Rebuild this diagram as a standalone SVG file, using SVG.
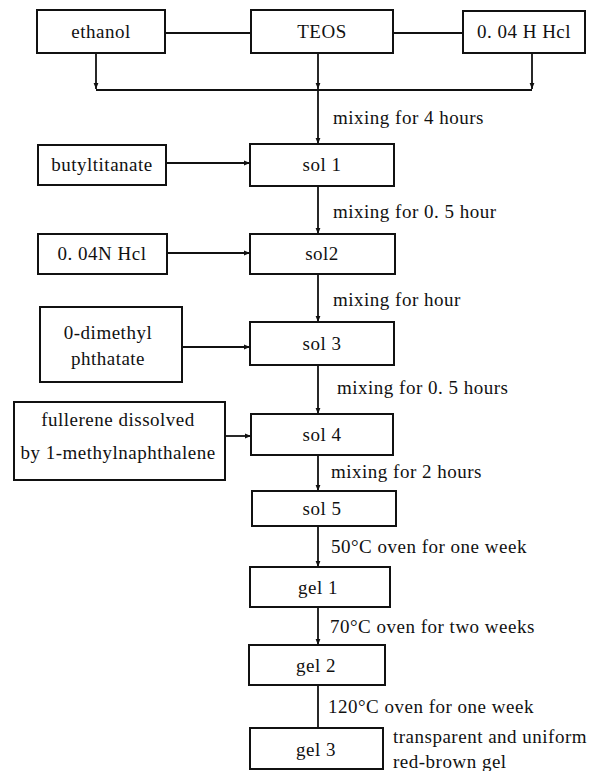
<svg xmlns="http://www.w3.org/2000/svg" width="606" height="771" viewBox="0 0 606 771">
<style>
.box{fill:#fff;stroke:#111;stroke-width:2}
.ln{fill:none;stroke:#111;stroke-width:1.8}
text{font-family:"Liberation Serif","DejaVu Serif",serif;font-size:19px;letter-spacing:0.5px;fill:#111}
.c{text-anchor:middle}
</style>
<defs>
<marker id="ah" viewBox="0 0 10 10" refX="10" refY="5" markerWidth="6" markerHeight="6" markerUnits="userSpaceOnUse" orient="auto">
<path d="M0,1 L10,5 L0,9 z" fill="#111"/>
</marker>
</defs>
<rect width="606" height="771" fill="#fff"/>
<g id="connectors">
<line class="ln" x1="165" y1="33" x2="251" y2="33"/>
<line class="ln" x1="393" y1="33" x2="463" y2="33"/>
<line class="ln" x1="96" y1="53" x2="96" y2="89" marker-end="url(#ah)"/>
<line class="ln" x1="318" y1="53" x2="318" y2="89" marker-end="url(#ah)"/>
<line class="ln" x1="532" y1="53" x2="532" y2="89" marker-end="url(#ah)"/>
<line class="ln" x1="96" y1="90" x2="532" y2="90"/>
<line class="ln" x1="318" y1="90" x2="318" y2="144" marker-end="url(#ah)"/>
<line class="ln" x1="166" y1="163" x2="250" y2="163" marker-end="url(#ah)"/>
<line class="ln" x1="318" y1="186" x2="318" y2="234" marker-end="url(#ah)"/>
<line class="ln" x1="167" y1="253" x2="250" y2="253" marker-end="url(#ah)"/>
<line class="ln" x1="318" y1="274" x2="318" y2="322" marker-end="url(#ah)"/>
<line class="ln" x1="182" y1="347" x2="250" y2="347" marker-end="url(#ah)"/>
<line class="ln" x1="318" y1="365" x2="318" y2="414" marker-end="url(#ah)"/>
<line class="ln" x1="225" y1="436" x2="251" y2="436" marker-end="url(#ah)"/>
<line class="ln" x1="318" y1="455" x2="318" y2="491" marker-end="url(#ah)"/>
<line class="ln" x1="318" y1="526" x2="318" y2="567" marker-end="url(#ah)"/>
<line class="ln" x1="318" y1="607" x2="318" y2="645" marker-end="url(#ah)"/>
<line class="ln" x1="318" y1="685" x2="318" y2="728"/>
<text x="333" y="124">mixing for 4 hours</text>
<text x="333" y="218">mixing for 0. 5 hour</text>
<text x="333" y="306">mixing for hour</text>
<text x="337" y="394">mixing for 0. 5 hours</text>
<text x="331" y="478">mixing for 2 hours</text>
<text x="331" y="553">50°C oven for one week</text>
<text x="330" y="633">70°C oven for two weeks</text>
<text x="328" y="713">120°C oven for one week</text>
</g>
<g id="ethanol"><rect class="box" x="37" y="10" width="128" height="43"/><text class="c" x="101" y="38">ethanol</text></g>
<g id="teos"><rect class="box" x="251" y="10" width="142" height="43"/><text class="c" x="322" y="38">TEOS</text></g>
<g id="hcl1"><rect class="box" x="463" y="11" width="122" height="42"/><text class="c" x="524" y="38">0. 04 H Hcl</text></g>
<g id="butyl"><rect class="box" x="38" y="145" width="128" height="40"/><text class="c" x="102" y="171">butyltitanate</text></g>
<g id="sol1"><rect class="box" x="250" y="144" width="144" height="42"/><text class="c" x="322" y="171">sol 1</text></g>
<g id="hcl2"><rect class="box" x="38" y="234" width="129" height="40"/><text class="c" x="102" y="260">0. 04N Hcl</text></g>
<g id="sol2"><rect class="box" x="250" y="234" width="145" height="40"/><text class="c" x="322" y="260">sol2</text></g>
<g id="dmp"><rect class="box" x="40" y="307" width="142" height="75"/><text class="c" x="108" y="339">0-dimethyl</text><text class="c" x="108" y="365">phthatate</text></g>
<g id="sol3"><rect class="box" x="250" y="322" width="144" height="43"/><text class="c" x="322" y="350">sol 3</text></g>
<g id="fullerene"><rect class="box" x="14" y="402" width="211" height="78"/><text class="c" x="118" y="426">fullerene dissolved</text><text class="c" x="118" y="459">by 1-methylnaphthalene</text></g>
<g id="sol4"><rect class="box" x="251" y="414" width="142" height="41"/><text class="c" x="322" y="441">sol 4</text></g>
<g id="sol5"><rect class="box" x="252" y="491" width="144" height="35"/><text class="c" x="322" y="515">sol 5</text></g>
<g id="gel1"><rect class="box" x="250" y="567" width="140" height="40"/><text class="c" x="318" y="594">gel 1</text></g>
<g id="gel2"><rect class="box" x="249" y="645" width="136" height="40"/><text class="c" x="316" y="672">gel 2</text></g>
<g id="gel3"><rect class="box" x="250" y="728" width="133" height="41"/><text class="c" x="316" y="756">gel 3</text><text x="393" y="743">transparent and uniform</text><text x="393" y="768">red-brown gel</text></g>
</svg>
